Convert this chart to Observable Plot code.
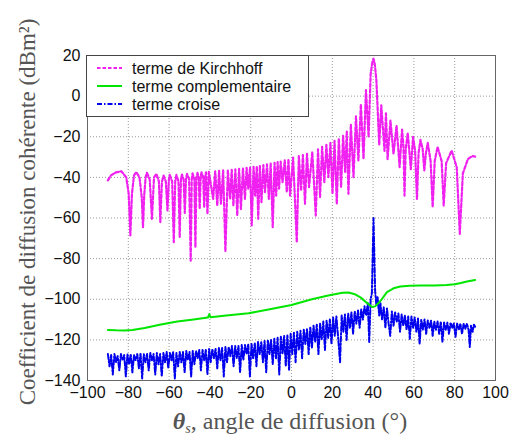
<!DOCTYPE html>
<html><head><meta charset="utf-8">
<script src="https://cdn.jsdelivr.net/npm/d3@7"></script>
<script src="https://cdn.jsdelivr.net/npm/@observablehq/plot@0.6"></script>
<style>body{margin:0;background:#fff} #chart{width:512px;height:441px}</style>
</head><body><div id="chart"></div>
<script>
const xTicks = [-100,-80,-60,-40,-20,0,20,40,60,80,100];
const yTicks = [-140,-120,-100,-80,-60,-40,-20,0,20];
const seriesNames = ["terme de Kirchhoff","terme complementaire","terme croise"];
const yTitle = "Coefficient de diffusion cohérente (dBm²)";
const xTitleRest = ", angle de diffusion (°)";

// [theta (deg), dB]
const kirchhoff = [
[-90,-41.5],[-88.5,-39],[-86,-37.5],[-83.4,-37],[-81,-40],[-79.8,-48],[-79,-68.6],[-78.2,-48],[-77.2,-39],[-76.1,-37.4],
[-74.5,-40],[-73.4,-50],[-72.8,-64.5],[-72.2,-49],[-71.5,-40],[-70.9,-37.7],[-69.5,-41],[-68.4,-60.4],[-67.4,-40],[-66.2,-38.3],
[-65,-42],[-64.3,-62],[-63.5,-42],[-62.7,-39.1],[-61.6,-42],[-60.8,-56.3],[-60.1,-41],[-59.7,-38.8],[-58.5,-42],[-57.7,-71.9],
[-57,-42],[-56.4,-38.8],[-55.4,-42],[-54.8,-69.4],[-54.2,-41],[-53.7,-38.6],[-52.9,-41],[-52.3,-57.5],[-51.7,-40.5],[-51.2,-38.3],
[-50.2,-41],[-49.4,-81],[-48.9,-41],[-48.5,-38],[-47.6,-41],[-47.1,-74.4],[-46.6,-40],[-46.1,-37.8],[-45.5,-40],[-45,-55.5],
[-44.5,-39.5],[-44.1,-37.5],[-43.3,-40],[-42.8,-54.7],[-42.3,-39.5],[-41.9,-37.5],[-41.2,-58],[-40.5,-37.3],
[-38.4,-50.6],[-37.4,-37],[-36.4,-53.9],[-35.5,-36.8],[-34.6,-53],[-33.5,-36.6],[-32.4,-76.5],[-31.2,-36.5],[-30.1,-50.6],[-29.3,-36.3],
[-28.5,-53.9],[-27.5,-36],[-26.6,-58.8],[-25.7,-35.8],[-24.8,-55.6],[-23.8,-35.6],[-22.8,-50.6],[-22,-35.3],[-21.2,-45.6],[-20.3,-35],
[-19.5,-63.7],[-18.6,-34.8],[-17.8,-49],[-17,-34.6],[-16.3,-60.4],[-15.5,-34.3],[-14.7,-52.2],[-13.8,-34],[-13,-47.3],[-12,-33.6],
[-11.1,-50.6],[-10.2,-33.2],[-9.2,-64.5],[-8.3,-32.8],[-7.5,-49],[-6.8,-32.5],[-6.1,-45.6],[-5.3,-32.2],[-4.4,-42.4],[-3.3,-31.6],
[-2.3,-47.3],[-1.5,-31],[-0.7,-49],[0.8,-30.3],[2.6,-72],[3.6,-29.5],[4.7,-46.5],[5.6,-29],[6.6,-53],[7.6,-28.4],
[8.6,-44.8],[10.2,-27.5],[11.9,-58.8],[13,-26.2],[14,-49.7],[15,-25],[16.1,-42.4],[17.1,-24],[18.1,-39.9],[19.1,-23],
[20.1,-48.1],[21.1,-22],[22.2,-53],[23.2,-20.8],[24.3,-44.8],[25.3,-19.5],[26.3,-37.4],[27.1,-17.5],[27.9,-48.1],[29.1,-14],
[30.4,-39.9],[31.6,-10],[32.8,-31.7],[34,-4],[35.3,-30.9],[36.5,3],[37.8,-20.2],[38.8,11],[39.6,16.5],[40.2,18.4],
[40.8,16],[41.6,8],[43,-24],[44,-4.5],[45.6,-27],[46.3,-8.5],[47.1,-31],[48.5,-12],[50,-28.4],[51.5,-14.5],
[53,-35],[54.2,-16.5],[54.9,-25],[55.4,-49],[56,-26],[57,-18.2],[58.5,-36],[59.6,-20],[60.6,-27],[61.5,-50.6],
[62.3,-28],[63.2,-21.5],[64.3,-26],[65.1,-36.6],[65.9,-28],[66.8,-23],[68.2,-32],[69.2,-54.7],[70.2,-32],[71.6,-25],
[73.6,-32],[74.6,-53.9],[75.8,-33],[78.5,-26.8],[81,-35],[82.5,-67.8],[84,-38],[86.5,-31],[88.5,-29.5],[90,-29.8]
];

const complementaire = [
[-90,-115.1],[-86,-115.3],[-82,-115.4],[-78,-115.1],[-72,-114.2],[-64,-112.4],[-56,-111],[-48,-110],[-41,-109],[-40.3,-107.3],
[-39.7,-108.9],[-32,-108],[-21,-106.9],[-10,-104.8],[0,-102.8],[10,-100],[18,-98.2],[25,-96.8],[28,-96.7],[31,-97.5],
[34,-99.2],[37,-101.8],[39.5,-103.8],[41,-103.5],[43.5,-101],[46.8,-96.5],[50,-94.6],[53.3,-93.7],[58,-93.3],[63,-93.2],
[70,-93.2],[76,-93],[80,-92.6],[83,-92],[86,-91.3],[90,-90.5]
];

const croise = [
[-90,-127],[-89.2,-133],[-88.4,-127.5],[-87.6,-137],[-86.8,-127],[-86,-131],[-85.2,-128],[-84.4,-135],[-83.6,-127],[-82.8,-130],
[-82,-127.5],[-81.2,-138],[-80.4,-127],[-79.6,-132],[-78.8,-127],[-78,-136],[-77.2,-127.5],[-76.4,-130],[-75.6,-127],[-74.8,-134],
[-74,-126.5],[-73.2,-139],[-72.4,-127],[-71.6,-131],[-70.8,-127],[-70,-135],[-69.2,-126.5],[-68.4,-130],[-67.6,-127],[-66.8,-137],
[-66,-126.5],[-65.2,-132],[-64.4,-127],[-63.6,-138],[-62.8,-126.5],[-62,-131],[-61.2,-126],[-60.4,-134],[-59.6,-126.5],[-58.8,-130],
[-58,-126],[-57.2,-139],[-56.4,-126.5],[-55.6,-133],[-54.8,-126],[-54,-131],[-53.2,-126],[-52.4,-136],[-51.6,-125.5],[-50.8,-130],
[-50,-126],[-49.2,-138],[-48.4,-125.5],[-47.6,-132],[-46.8,-125.5],[-46,-129],[-45.2,-125],[-44.4,-135],[-43.6,-125],[-42.8,-130],
[-42,-125],[-41.2,-137],[-40.4,-124.5],[-39.6,-131],[-38.8,-124.5],[-38,-129],[-37.2,-124.5],[-36.4,-134],[-35.6,-124],[-34.8,-130],
[-34,-124],[-33.2,-138],[-32.4,-123.5],[-31.6,-131],[-30.8,-123.5],[-30,-128],[-29.2,-123],[-28.4,-133],[-27.6,-123],[-26.8,-129],
[-26,-123],[-25.2,-136],[-24.4,-122.5],[-23.6,-130],[-22.8,-122.5],[-22,-127],[-21.2,-122],[-20.4,-138],[-19.6,-122],[-18.8,-129],
[-18,-121.5],[-17.2,-133],[-16.4,-121],[-15.6,-127],[-14.8,-121],[-14,-131],[-13.2,-120.5],[-12.4,-136],[-11.6,-120],[-10.8,-127],
[-10,-120],[-9.2,-132],[-8.4,-119.5],[-7.6,-129],[-6.8,-119],[-6,-137],[-5.2,-118.5],[-4.4,-127],[-3.6,-118],[-2.8,-133],
[-2,-117.5],[-1.2,-135],[-0.4,-117],[0.4,-127],[1.2,-116.5],[2,-131],[2.8,-116],[3.6,-125],[4.4,-115.5],[5.2,-129],
[6,-115],[6.8,-122],[7.6,-114.5],[8.4,-127],[9.2,-113.5],[10,-124],[10.8,-113],[11.6,-121],[12.4,-112.5],[13.2,-127],
[14,-112],[14.8,-120],[15.6,-111],[16.4,-125],[17.2,-110.5],[18,-119],[18.8,-110],[19.6,-122],[20.4,-109],[21.2,-118],
[22,-108.5],[22.8,-118],[23.8,-131],[24.6,-108],[25.4,-116],[26.2,-107.5],[27,-120],[27.8,-107],[28.6,-114],[29.4,-106.5],
[30.2,-117],[31,-106],[31.8,-112],[32.6,-105.5],[33.4,-114],[34.2,-105],[35,-110],[35.8,-103.5],[36.6,-108],[37.4,-102],
[38.1,-121],[38.8,-100],[39.4,-97],[40.2,-60],[41,-96],[41.6,-103],[42.2,-99],[43,-108],[43.6,-102],[44.4,-110],
[45.2,-104],[46,-114],[46.8,-104.5],[47.6,-112],[48.4,-118],[49.2,-106],[50,-113],[50.8,-106.5],[51.6,-111],[52.4,-107],
[53.2,-116],[54,-107.5],[54.8,-113],[55.6,-108],[56.4,-115],[57.2,-108.5],[58,-119.5],[58.8,-108.5],[59.6,-114],[60.4,-109],
[61.2,-116],[62,-109.5],[62.8,-122],[63.6,-110],[64.4,-115],[65.2,-110],[66,-117],[66.8,-110.5],[67.6,-114],[68.4,-110.5],
[69.2,-118],[70,-111],[70.8,-115],[71.6,-111],[72.4,-117],[73.2,-111],[74,-121],[74.8,-111.5],[75.6,-115],[76.4,-111.5],
[77.2,-117],[78,-111.5],[78.8,-114],[79.6,-112],[80.4,-118.5],[81.2,-112],[82,-115],[82.8,-112],[83.6,-117],[84.4,-112],
[85.2,-114.5],[86,-112],[86.8,-115],[87.4,-123.5],[88,-113],[88.8,-116],[89.4,-112.5],[90,-113.5]
];

const colors = ["#f020f0", "#00e600", "#0000ee"];
const dashes = ["3.5,2", null, "5,2,1.5,2"];
const rows = a => a.map(([t, v]) => ({t, v}));

const plot = Plot.plot({
  width: 512, height: 441,
  marginLeft: 87, marginRight: 17, marginTop: 55, marginBottom: 61,
  style: {fontFamily: "'Liberation Sans', Arial, sans-serif", fontSize: "16px", color: "#111", background: "#fff"},
  x: {domain: [-100, 100], label: null},
  y: {domain: [-140, 20], label: null},
  marks: [
    Plot.gridX(xTicks, {stroke: "#999", strokeOpacity: 1, strokeDasharray: "1,2"}),
    Plot.gridY(yTicks, {stroke: "#999", strokeOpacity: 1, strokeDasharray: "1,2"}),
    Plot.axisX(xTicks, {tickSize: 0, tickPadding: 6, fill: "#111", label: null}),
    Plot.axisY(yTicks, {tickSize: 0, tickPadding: 7, fill: "#111", label: null}),
    Plot.line(rows(kirchhoff), {x: "t", y: "v", stroke: colors[0], strokeWidth: 2.2, strokeDasharray: dashes[0]}),
    Plot.line(rows(croise), {x: "t", y: "v", stroke: colors[2], strokeWidth: 2, strokeDasharray: dashes[2]}),
    Plot.line(rows(complementaire), {x: "t", y: "v", stroke: colors[1], strokeWidth: 2}),
    Plot.frame({stroke: "#666"})
  ]
});
document.getElementById("chart").append(plot);

const svg = d3.select(plot);
// Legend
const lg = svg.append("g").attr("text-anchor", "start");
lg.append("rect").attr("x", 86.5).attr("y", 55.5).attr("width", 222).attr("height", 61)
  .attr("fill", "#fff").attr("stroke", "#444");
const rowY = [68, 86, 104];
seriesNames.forEach((name, i) => {
  const l = lg.append("line").attr("x1", 97).attr("x2", 122).attr("y1", rowY[i]).attr("y2", rowY[i])
    .attr("stroke", colors[i]).attr("stroke-width", 2);
  if (dashes[i]) l.attr("stroke-dasharray", dashes[i]);
  lg.append("text").attr("x", 132).attr("y", rowY[i]).attr("dy", "0.35em").attr("text-anchor", "start")
    .attr("font-family", "'Liberation Sans', Arial, sans-serif").attr("font-size", 16).attr("fill", "#111")
    .text(name);
});
// Axis titles
svg.append("text").attr("transform", "translate(35,212) rotate(-90)").attr("text-anchor", "middle")
  .attr("font-family", "'Liberation Serif', 'Times New Roman', serif").attr("font-size", 23).attr("fill", "#555")
  .text(yTitle);
const xt = svg.append("text").attr("x", 290).attr("y", 429).attr("text-anchor", "middle")
  .attr("font-family", "'Liberation Serif', 'Times New Roman', serif").attr("font-size", 24).attr("fill", "#555");
xt.append("tspan").attr("font-style", "italic").attr("font-weight", "bold").text("θ");
xt.append("tspan").attr("font-style", "italic").attr("font-size", 14).attr("dy", 4).text("s");
xt.append("tspan").attr("dy", -4).text(xTitleRest);
</script></body></html>
